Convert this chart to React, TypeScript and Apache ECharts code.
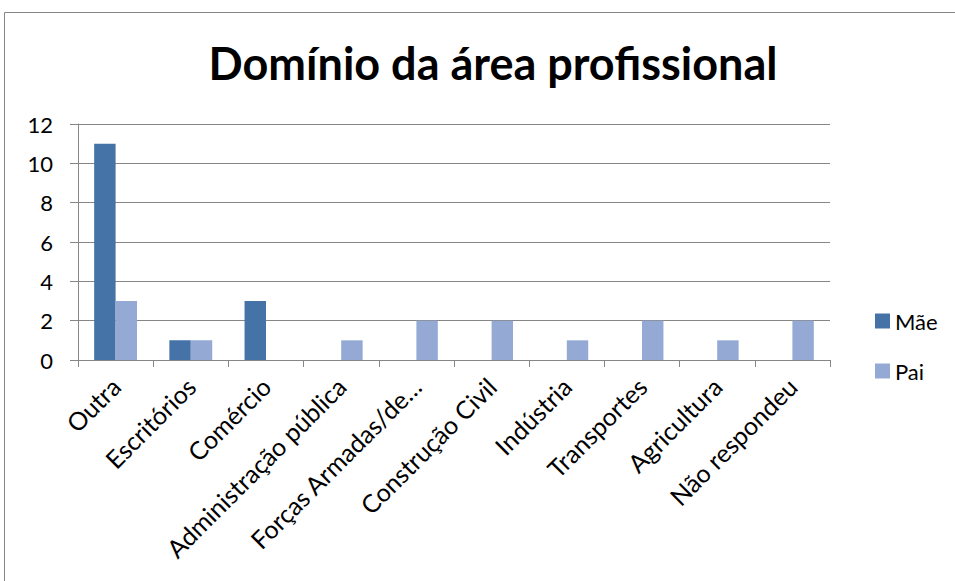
import React, { useEffect, useRef } from "react";
import * as echarts from "echarts";

const categories = [
  "Outra",
  "Escritórios",
  "Comércio",
  "Administração pública",
  "Forças Armadas/de…",
  "Construção Civil",
  "Indústria",
  "Transportes",
  "Agricultura",
  "Não respondeu",
];
const maeValues = [11, 1, 3, 0, 0, 0, 0, 0, 0, 0];
const paiValues = [3, 1, 0, 1, 2, 2, 1, 2, 1, 2];
const seriesNames = ["Mãe", "Pai"];
const titleText = "Domínio da área profissional";

const FONT = "Lato, 'Open Sans', sans-serif";

export default function App() {
  const ref = useRef<HTMLDivElement>(null);
  useEffect(() => {
    if (!ref.current) return;
    const chart = echarts.init(ref.current, null, { renderer: "svg" });
    chart.setOption({
      animation: false,
      backgroundColor: "#ffffff",
      textStyle: { fontFamily: FONT },
      title: {
        text: titleText,
        left: 488,
        textAlign: "center",
        top: 35,
        textStyle: { fontSize: 45, fontWeight: "bold", color: "#000", fontFamily: FONT },
      },
      graphic: [
        {
          type: "rect",
          shape: { x: 4.5, y: 12.5, width: 1000, height: 1000 },
          style: { fill: "none", stroke: "#868686", lineWidth: 1 },
          silent: true,
        },
      ],
      legend: {
        orient: "vertical",
        left: 870,
        top: 305,
        itemWidth: 15,
        itemHeight: 15,
        itemGap: 28,
        icon: "rect",
        textStyle: { fontSize: 22, color: "#000", fontFamily: FONT },
        data: seriesNames,
      },
      grid: { left: 78, right: 125, top: 124, bottom: 221, containLabel: false },
      xAxis: {
        type: "category",
        data: categories,
        axisLine: { lineStyle: { color: "#868686", width: 1 } },
        axisTick: { show: true, length: 7, lineStyle: { color: "#868686" } },
        axisLabel: {
          interval: 0,
          rotate: 45,
          margin: 22,
          fontSize: 25,
          color: "#000",
          fontFamily: FONT,
        },
      },
      yAxis: {
        type: "value",
        min: 0,
        max: 12,
        interval: 2,
        axisLine: { show: true, lineStyle: { color: "#868686", width: 1 } },
        axisTick: { show: true, length: 8, lineStyle: { color: "#868686" } },
        splitLine: { show: true, lineStyle: { color: "#868686", width: 1 } },
        axisLabel: { fontSize: 22, color: "#000", margin: 25, fontFamily: FONT },
      },
      series: [
        {
          name: seriesNames[0],
          type: "bar",
          data: maeValues,
          barGap: "0%",
          barCategoryGap: "43%",
          itemStyle: { color: "#4572A7" },
        },
        {
          name: seriesNames[1],
          type: "bar",
          data: paiValues,
          barGap: "0%",
          barCategoryGap: "43%",
          itemStyle: { color: "#94AAD4" },
        },
      ],
    });
    return () => chart.dispose();
  }, []);
  return (
    <div
      ref={ref}
      style={{ position: "fixed", left: 0, top: 0, width: 955, height: 581 }}
    />
  );
}
